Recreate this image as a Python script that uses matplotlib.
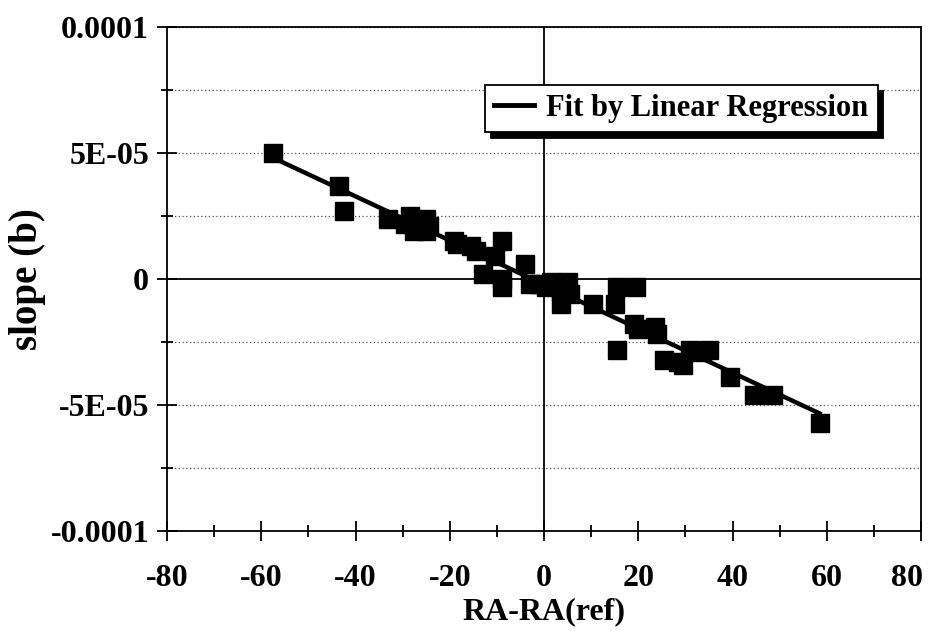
import numpy as np
import matplotlib
matplotlib.use("Agg")
import matplotlib.pyplot as plt
import matplotlib.transforms as mtransforms
from matplotlib.ticker import MultipleLocator

# ---- data ----
ra_diff = [-57.5, -43.5, -42.5, -33.0, -29.5, -28.5, -27.5, -25.0, -25.0, -24.5,
           -19.0, -18.5, -15.5, -14.5, -13.0, -10.5, -9.0, -9.0, -9.0, -4.0,
           -3.0, -1.0, 0.5, 1.5, 3.5, 3.5, 5.0, 5.5, 10.5, 15.0,
           15.5, 19.5, 15.5, 19.0, 20.0, 23.5, 24.0, 25.5, 28.5, 29.5,
           31.0, 33.5, 35.0, 39.5, 44.5, 48.5, 58.5]
slope_b = [5.0e-5, 3.7e-5, 2.7e-5, 2.4e-5, 2.2e-5, 2.5e-5, 1.9e-5, 2.4e-5, 1.9e-5, 2.1e-5,
           1.5e-5, 1.4e-5, 1.3e-5, 1.1e-5, 0.2e-5, 0.9e-5, 1.5e-5, 0.0e-5, -0.3e-5, 0.6e-5,
           -0.2e-5, -0.2e-5, -0.3e-5, -0.1e-5, -0.5e-5, -1.0e-5, -0.1e-5, -0.6e-5, -1.0e-5, -1.0e-5,
           -0.3e-5, -0.3e-5, -2.8e-5, -1.8e-5, -2.0e-5, -1.9e-5, -2.2e-5, -3.2e-5, -3.3e-5, -3.4e-5,
           -2.8e-5, -2.9e-5, -2.8e-5, -3.9e-5, -4.6e-5, -4.6e-5, -5.7e-5]
fit_label = "Fit by Linear Regression"
x_label = "RA-RA(ref)"
y_label = "slope (b)"
x_ticks = [-80, -60, -40, -20, 0, 20, 40, 60, 80]
y_ticks = [-0.0001, -5e-05, 0, 5e-05, 0.0001]
y_tick_labels = ["-0.0001", "-5E-05", "0", "5E-05", "0.0001"]

plt.rcParams['font.family'] = ['Liberation Serif', 'DejaVu Serif']
plt.rcParams['font.weight'] = 'bold'
plt.rcParams['axes.unicode_minus'] = False

fig = plt.figure(figsize=(9.34, 6.31), dpi=100)
ax = fig.add_axes([0.1788, 0.1585, 0.8073, 0.7987])

ax.set_xlim(-80, 80)
ax.set_ylim(-0.0001, 0.0001)

# dotted horizontal grid
for yv in np.arange(-0.0001, 0.000101, 2.5e-5):
    if abs(yv) > 1e-12:
        ax.axhline(yv, color='#555555', lw=0.9, ls=(0, (1, 2)), zorder=1)
ax.axhline(0, color='black', lw=1.3, zorder=1)
ax.axvline(0, color='black', lw=1.3, zorder=1)

ax.plot(ra_diff, slope_b, ls='none', marker='s', ms=13, color='black',
        zorder=3)

coef = np.polyfit(ra_diff, slope_b, 1)
fx = np.array([min(ra_diff), max(ra_diff)])
ax.plot(fx, np.polyval(coef, fx), color='black', lw=3.2, zorder=4,
        label=fit_label)

ax.set_xticks(x_ticks)
ax.set_xticklabels([str(v) for v in x_ticks])
ax.xaxis.set_minor_locator(MultipleLocator(10))
ax.set_yticks(y_ticks)
ax.set_yticklabels(y_tick_labels)
ax.yaxis.set_minor_locator(MultipleLocator(2.5e-5))
ax.tick_params(axis='both', which='major', direction='inout', length=14,
               width=1.3, labelsize=23, pad=6)
ax.tick_params(axis='both', which='minor', direction='inout', length=9,
               width=1.3)
ax.tick_params(axis='x', which='major', pad=17)
for lab in ax.get_xticklabels() + ax.get_yticklabels():
    lab.set_fontweight('bold')

# keep the last x label inside the figure, as in the reference
last = ax.get_xticklabels()[-1]
last.set_transform(last.get_transform() +
                   mtransforms.ScaledTranslation(-14 / 100, 0, fig.dpi_scale_trans))

for s in ax.spines.values():
    s.set_linewidth(1.3)

ax.set_xlabel(x_label, fontsize=23, fontweight='bold', labelpad=3)
ax.set_ylabel(y_label, fontsize=28, fontweight='bold', labelpad=3)

leg = ax.legend(loc='upper left', bbox_to_anchor=(0.422, 0.885),
                fancybox=False, framealpha=1, edgecolor='black',
                shadow={'ox': 4, 'oy': -4, 'color': 'black', 'alpha': 1},
                prop={'family': 'Liberation Serif', 'weight': 'bold', 'size': 22},
                handlelength=1.3, borderpad=0.3, handletextpad=0.4,
                borderaxespad=0)
leg.get_frame().set_linewidth(1.3)
leg.get_lines()[0].set_linewidth(3.5)

fig.savefig("out.png", dpi=100)
